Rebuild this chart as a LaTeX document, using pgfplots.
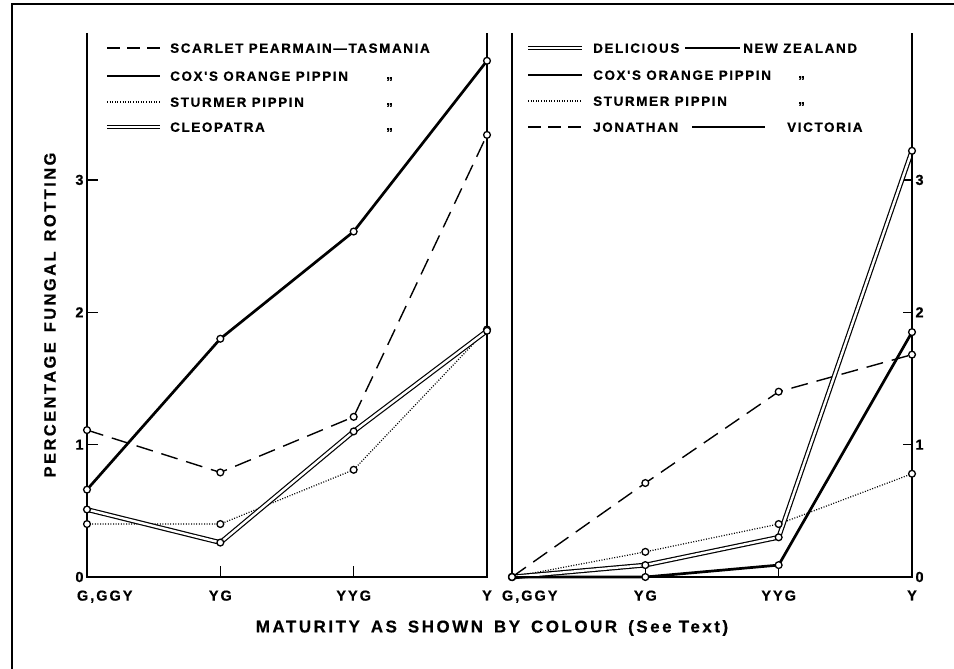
\documentclass[border=0pt]{standalone}
\usepackage{fontspec}
\setmainfont{Liberation Sans}
\newfontfamily\lblfont[LetterSpace=15,FakeBold=0.6]{Liberation Sans}
\newfontfamily\legfont[LetterSpace=12,FakeBold=0.6]{Liberation Sans}
\newfontfamily\tickfont[LetterSpace=14,FakeBold=0.6]{Liberation Sans}
\usepackage{pgfplots}
\usepackage{pgfplotstable}
\pgfplotsset{compat=1.18}

% x: 0 = G,GGY  1 = YG  2 = YYG  3 = Y
\pgfplotstableread{
x scarlet cox sturmer cleo
0 1.11 0.66 0.40 0.51
1 0.79 1.80 0.40 0.26
2 1.21 2.61 0.81 1.10
3 3.34 3.90 1.87 1.86
}\tasmania

\pgfplotstableread{
x delicious cox sturmer jonathan
0 0.00 0.00 0.00 0.00
1 0.09 0.00 0.19 0.71
2 0.30 0.09 0.40 1.40
3 3.22 1.85 0.78 1.68
}\newzealand

\tikzset{
  dashln/.style={line width=1.4bp, dash pattern=on 17bp off 9bp},
  thickln/.style={line width=2.7bp},
  dotln/.style={line width=1.2bp, dash pattern=on 1bp off 1.6bp},
  dblln/.style={line width=1.2bp, double=white, double distance=2.4bp},
}
\pgfplotsset{
  panel/.style={
    scale only axis, width=400bp, height=544bp, anchor=south west,
    xmin=0, xmax=3, ymin=0, ymax=4.11, clip=false,
    axis line style={draw=none},
    xtick={0,1,2,3}, ytick={0,1,2,3},
    xticklabels={\makebox[0pt][l]{\hspace{-10bp}G,GGY},YG,YYG,Y},
    xtick pos=bottom, tick align=inside,
    tick style={black, line width=1.3bp},
    ticklabel style={font=\tickfont\bfseries\fontsize{14.5}{14.5}\selectfont},
    xticklabel style={yshift=-10bp},
    /pgf/number format/assume math mode=true,
  },
  dots/.style={only marks, mark=*, mark size=3.4bp,
    mark options={solid, fill=white, draw=black, line width=1.3bp}},
}

\newcommand\ditto{\raisebox{2bp}{„}}

\begin{document}
\begin{tikzpicture}[font=\bfseries]
\path[use as bounding box] (0,0) rectangle (954bp,669bp);
\draw[line width=1.8bp] (12bp,0) -- (12bp,665bp) -- (954bp,665bp);

% ---- Tasmania
\begin{axis}[panel, at={(87bp,92bp)}, ytick pos=left, major tick length=11bp]
\addplot[dashln] table[x=x,y=scarlet] {\tasmania};
\addplot[thickln] table[x=x,y=cox] {\tasmania};
\addplot[dotln] table[x=x,y=sturmer] {\tasmania};
\addplot[dblln] table[x=x,y=cleo] {\tasmania};
\addplot[dots] table[x=x,y=scarlet] {\tasmania};
\addplot[dots] table[x=x,y=cox] {\tasmania};
\addplot[dots] table[x=x,y=sturmer] {\tasmania};
\addplot[dots] table[x=x,y=cleo] {\tasmania};
\draw[line width=1.7bp] (rel axis cs:0,1) -- (rel axis cs:0,0) -- (rel axis cs:1,0) -- (rel axis cs:1,1);
\end{axis}

% ---- New Zealand / Victoria
\begin{axis}[panel, at={(512bp,92bp)}, ytick pos=right, yticklabel pos=right, major tick length=9bp]
\addplot[dashln] table[x=x,y=jonathan] {\newzealand};
\addplot[thickln] table[x=x,y=cox] {\newzealand};
\addplot[dotln] table[x=x,y=sturmer] {\newzealand};
\addplot[dblln] table[x=x,y=delicious] {\newzealand};
\addplot[dots] table[x=x,y=jonathan] {\newzealand};
\addplot[dots] table[x=x,y=cox] {\newzealand};
\addplot[dots] table[x=x,y=sturmer] {\newzealand};
\addplot[dots] table[x=x,y=delicious] {\newzealand};
\draw[line width=1.7bp] (rel axis cs:0,1) -- (rel axis cs:0,0) -- (rel axis cs:1,0) -- (rel axis cs:1,1);
\end{axis}

% ---- labels
\node[rotate=90, font=\lblfont\bfseries\fontsize{16.5}{16.5}\selectfont] at (50bp,354bp)
  {PERCENTAGE\hspace{10bp}FUNGAL\hspace{10bp}ROTTING};
\node[font=\lblfont\bfseries\fontsize{17}{17}\selectfont] at (492bp,41bp)
  {MATURITY\hspace{11bp}AS\hspace{11bp}SHOWN\hspace{11bp}BY\hspace{11bp}COLOUR\hspace{11bp}(See Text)};

% ---- legend, left panel
\begin{scope}[every node/.style={anchor=base west, inner sep=0pt, font=\legfont\bfseries\fontsize{13.5}{13.5}\selectfont}]
\draw[line width=1.4bp, dash pattern=on 13bp off 7bp] (107bp,621bp) -- (160bp,621bp);
\draw[thickln] (107bp,593bp) -- (160bp,593bp);
\draw[dotln] (107bp,567bp) -- (160bp,567bp);
\draw[dblln] (107bp,542bp) -- (160bp,542bp);
\node at (170bp,616.2bp) {SCARLET PEARMAIN—TASMANIA};
\node at (170bp,588.2bp) {COX'S ORANGE PIPPIN};
\node at (170bp,562.2bp) {STURMER PIPPIN};
\node at (170bp,537.2bp) {CLEOPATRA};
\node at (386bp,588.2bp) {\ditto};
\node at (386bp,562.2bp) {\ditto};
\node at (386bp,537.2bp) {\ditto};
% ---- legend, right panel
\draw[dblln] (528bp,621bp) -- (582bp,621bp);
\draw[thickln] (528bp,594bp) -- (582bp,594bp);
\draw[dotln] (528bp,568bp) -- (582bp,568bp);
\draw[line width=1.4bp, dash pattern=on 13bp off 7bp] (528bp,542bp) -- (582bp,542bp);
\node at (593bp,616.2bp) {DELICIOUS};
\draw[line width=1.2bp] (685bp,621bp) -- (740bp,621bp);
\node at (743bp,616.2bp) {NEW ZEALAND};
\node at (593bp,589.2bp) {COX'S ORANGE PIPPIN};
\node at (593bp,563.2bp) {STURMER PIPPIN};
\node at (798bp,589.2bp) {\ditto};
\node at (798bp,563.2bp) {\ditto};
\node at (593bp,537.2bp) {JONATHAN};
\draw[line width=1.2bp] (692bp,542bp) -- (765bp,542bp);
\node at (787bp,537.2bp) {VICTORIA};
\end{scope}
\end{tikzpicture}
\end{document}
